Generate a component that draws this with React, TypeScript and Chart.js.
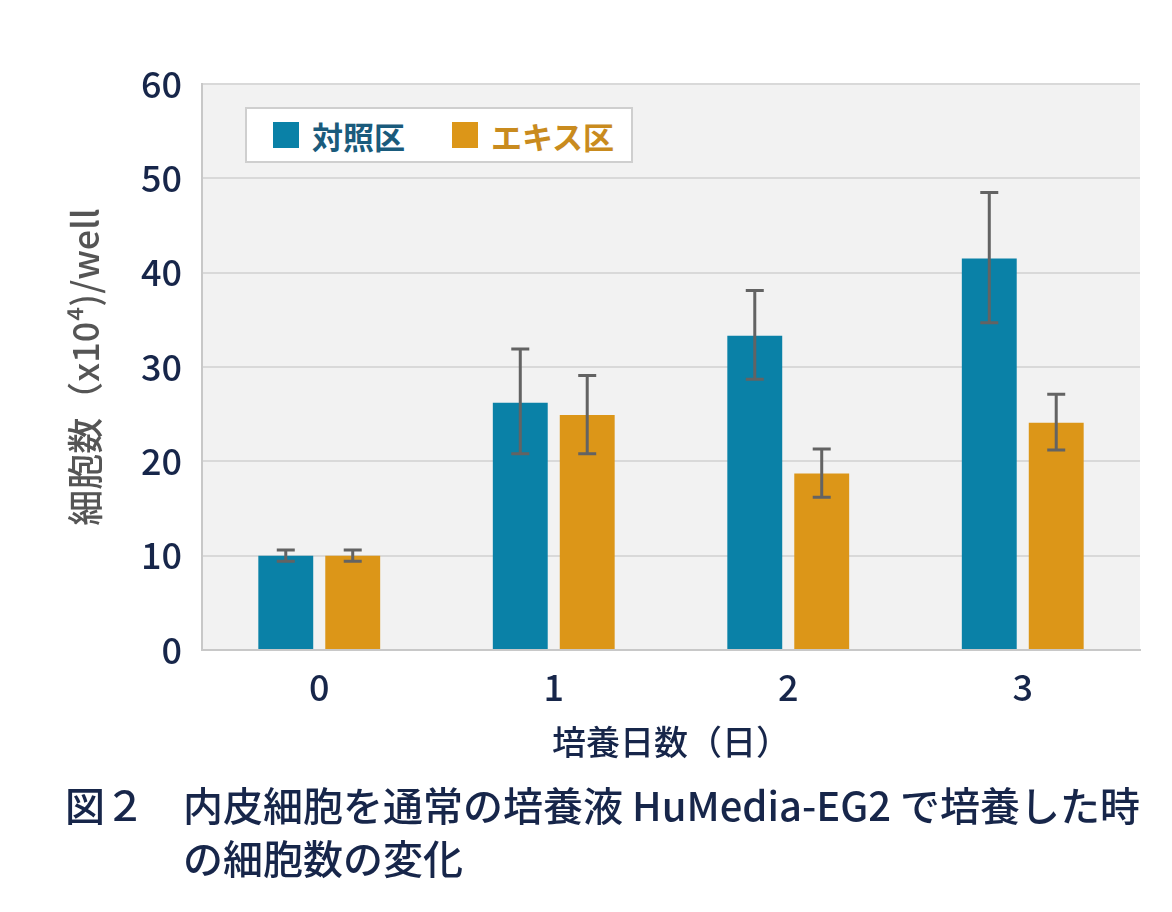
import { useEffect, useRef } from 'react';
import { Chart, registerables } from 'chart.js';

Chart.register(...registerables);

// days
const categories = ['0', '1', '2', '3'];

// cell count (x10^4 / well)
const controlValues = [10.0, 26.2, 33.3, 41.5];
const controlLow = [9.4, 20.8, 28.7, 34.7];
const controlHigh = [10.6, 31.9, 38.1, 48.5];

const extractValues = [10.0, 24.9, 18.7, 24.1];
const extractLow = [9.4, 20.8, 16.2, 21.2];
const extractHigh = [10.6, 29.1, 21.3, 27.1];

const seriesLabels = ['対照区', 'エキス区'];
const yTicks = [0, 10, 20, 30, 40, 50, 60];

const BLUE = '#0a81a7';
const ORANGE = '#dc9618';
const NAVY = '#17264a';
const FONT = '"Noto Sans CJK JP", "Noto Sans", sans-serif';

const errorLows = [controlLow, extractLow];
const errorHighs = [controlHigh, extractHigh];

const plotBackground = {
  id: 'plotBackground',
  beforeDraw(chart: Chart) {
    const { ctx, chartArea } = chart;
    ctx.save();
    ctx.fillStyle = '#f2f2f2';
    ctx.fillRect(chartArea.left, chartArea.top, chartArea.right - chartArea.left, chartArea.bottom - chartArea.top);
    ctx.restore();
  },
};

const errorBars = {
  id: 'errorBars',
  afterDatasetsDraw(chart: Chart) {
    const { ctx } = chart;
    const yScale = chart.scales.y;
    ctx.save();
    ctx.strokeStyle = '#636363';
    ctx.lineWidth = 3;
    chart.data.datasets.forEach((_, i) => {
      const meta = chart.getDatasetMeta(i);
      meta.data.forEach((bar: any, j: number) => {
        const top = yScale.getPixelForValue(errorHighs[i][j]);
        const bottom = yScale.getPixelForValue(errorLows[i][j]);
        const x = bar.x;
        ctx.beginPath();
        ctx.moveTo(x, top);
        ctx.lineTo(x, bottom);
        ctx.moveTo(x - 9, top);
        ctx.lineTo(x + 9, top);
        ctx.moveTo(x - 9, bottom);
        ctx.lineTo(x + 9, bottom);
        ctx.stroke();
      });
    });
    ctx.restore();
  },
};

export default function App() {
  const canvasRef = useRef<HTMLCanvasElement>(null);
  const chartRef = useRef<Chart | null>(null);

  useEffect(() => {
    document.body.style.margin = '0';
    if (!canvasRef.current) return;
    if (chartRef.current) chartRef.current.destroy();
    const ctx = canvasRef.current.getContext('2d');
    if (!ctx) return;

    chartRef.current = new Chart(ctx, {
      type: 'bar',
      data: {
        labels: categories,
        datasets: [
          {
            label: seriesLabels[0],
            data: controlValues,
            backgroundColor: BLUE,
            categoryPercentage: 0.571,
            barPercentage: 0.82,
          },
          {
            label: seriesLabels[1],
            data: extractValues,
            backgroundColor: ORANGE,
            categoryPercentage: 0.571,
            barPercentage: 0.82,
          },
        ],
      },
      options: {
        animation: false,
        responsive: false,
        maintainAspectRatio: false,
        layout: { padding: { top: 84, right: 32, left: 0, bottom: 0 } },
        plugins: {
          legend: { display: false },
          tooltip: { enabled: false },
        },
        scales: {
          x: {
            grid: { display: false, drawTicks: false },
            border: { display: true, color: '#c8c8c8', width: 2 },
            ticks: {
              padding: 16,
              color: NAVY,
              font: { family: FONT, size: 36, weight: 500 },
            },
            title: {
              display: true,
              text: '培養日数（日）',
              color: NAVY,
              font: { family: FONT, size: 34, weight: 500 },
              padding: { top: 0, bottom: 18 },
            },
            afterFit(axis: any) {
              axis.height = 130;
            },
          },
          y: {
            min: 0,
            max: 60,
            afterBuildTicks(axis: any) {
              axis.ticks = yTicks.map((v) => ({ value: v }));
            },
            grid: { color: '#d9d9d9', lineWidth: 2, drawTicks: false },
            border: { display: true, color: '#c8c8c8', width: 2 },
            ticks: {
              padding: 20,
              color: NAVY,
              font: { family: FONT, size: 36, weight: 500 },
            },
            title: {
              display: true,
              text: '細胞数（x10⁴)/well',
              color: '#555555',
              font: { family: FONT, size: 36, weight: 500 },
              padding: { top: 64, bottom: 0 },
            },
            afterFit(axis: any) {
              axis.width = 202;
            },
          },
        },
      },
      plugins: [plotBackground, errorBars],
    });

    return () => {
      if (chartRef.current) {
        chartRef.current.destroy();
        chartRef.current = null;
      }
    };
  }, []);

  const legendItem = (label: string, color: string, textColor: string) => (
    <div style={{ display: 'flex', alignItems: 'center' }}>
      <span style={{ width: 26, height: 26, background: color, display: 'inline-block', marginRight: 13 }} />
      <span style={{ color: textColor, fontWeight: 700, fontSize: 31 }}>{label}</span>
    </div>
  );

  return (
    <div style={{ position: 'relative', width: 1172, height: 912, background: '#ffffff', fontFamily: FONT }}>
      <canvas ref={canvasRef} width={1172} height={780} style={{ position: 'absolute', left: 0, top: 0 }} />
      <div
        style={{
          position: 'absolute',
          left: 245,
          top: 107,
          width: 388,
          height: 56,
          boxSizing: 'border-box',
          background: '#ffffff',
          border: '2px solid #cfcfcf',
          display: 'flex',
          alignItems: 'center',
          paddingLeft: 26,
          gap: 47,
        }}
      >
        {legendItem(seriesLabels[0], BLUE, '#1a5b7c')}
        {legendItem(seriesLabels[1], ORANGE, '#c98b1e')}
      </div>
      <div
        style={{
          position: 'absolute',
          left: 65,
          top: 778,
          display: 'flex',
          color: NAVY,
          fontWeight: 500,
          fontSize: 40,
          lineHeight: '53px',
          whiteSpace: 'nowrap',
        }}
      >
        <div style={{ width: 118 }}>図２</div>
        <div>
          内皮細胞を通常の培養液 HuMedia-EG2 で培養した時
          <br />
          の細胞数の変化
        </div>
      </div>
    </div>
  );
}
